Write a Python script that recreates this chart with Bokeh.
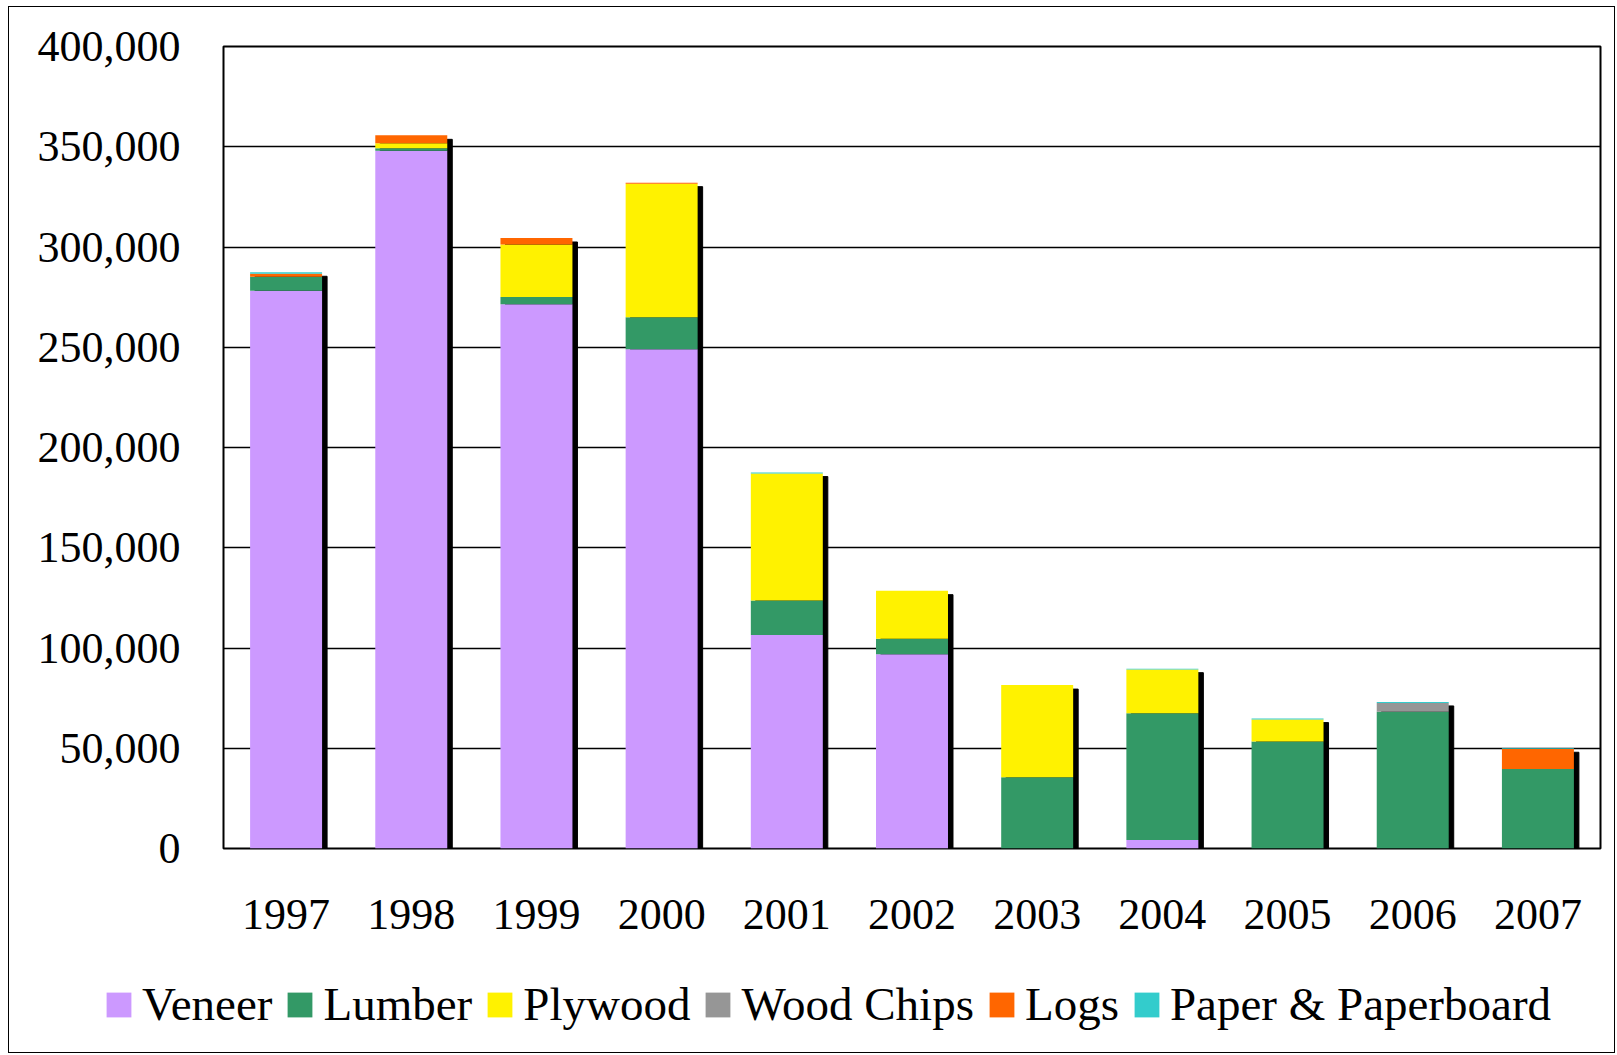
from bokeh.plotting import figure
from bokeh.layouts import column
from bokeh.models import ColumnDataSource, FactorRange, Range1d, NumeralTickFormatter, Legend, FixedTicker
from bokeh.transform import dodge
from bokeh.embed import file_html
from bokeh.resources import INLINE

years = ["1997", "1998", "1999", "2000", "2001", "2002", "2003", "2004", "2005", "2006", "2007"]
veneer = [278200, 348000, 271400, 249000, 106500, 96900, 0, 4200, 0, 0, 0]
lumber = [7000, 1200, 3700, 16000, 17200, 7700, 35500, 63300, 53400, 68200, 39600]
plywood = [0, 2500, 26200, 66600, 63300, 24000, 46000, 21800, 10900, 0, 0]
wood_chips = [0, 0, 0, 0, 0, 0, 0, 0, 0, 4400, 0]
logs = [1500, 4000, 3200, 500, 0, 0, 0, 0, 0, 0, 10000]
paper = [700, 0, 0, 0, 500, 0, 0, 400, 500, 500, 400]

series = ["Veneer", "Lumber", "Plywood", "Wood Chips", "Logs", "Paper & Paperboard"]
colors = ["#CC99FF", "#339966", "#FFF200", "#969696", "#FF6600", "#33CCCC"]
y_ticks = [0, 50000, 100000, 150000, 200000, 250000, 300000, 350000, 400000]

FONT = "Liberation Serif"

totals = [sum(v) for v in zip(veneer, lumber, plywood, wood_chips, logs, paper)]
shadow_drop = 2000  # ~4 px drop of the shadow
data = dict(year=years, Veneer=veneer, Lumber=lumber, Plywood=plywood,
            **{"Wood Chips": wood_chips, "Logs": logs, "Paper & Paperboard": paper},
            shadow_top=[t - shadow_drop for t in totals],
            shadow_bottom=[-shadow_drop] * len(years))
src = ColumnDataSource(data)

p = figure(x_range=FactorRange(*years, range_padding=0), y_range=Range1d(0, 400000),
           frame_width=1377, frame_height=802,
           min_border_left=214, min_border_right=14, min_border_top=39, min_border_bottom=110,
           output_backend="svg", toolbar_location=None, background_fill_color="white",
           border_fill_color="white")

bar_w = 0.575
p.vbar(x=dodge("year", 0.04, range=p.x_range), top="shadow_top", bottom="shadow_bottom",
       width=bar_w, source=src, color="black")
p.vbar_stack(series, x="year", width=bar_w, source=src, color=colors, line_color=None)

p.outline_line_color = "black"
p.outline_line_width = 2

p.xgrid.grid_line_color = None
p.ygrid.grid_line_color = "black"
p.ygrid.grid_line_width = 1.3
p.ygrid.ticker = FixedTicker(ticks=y_ticks)

p.yaxis.ticker = FixedTicker(ticks=y_ticks)
p.yaxis.formatter = NumeralTickFormatter(format="0,0")
for ax in (p.xaxis[0], p.yaxis[0]):
    ax.axis_line_color = None
    ax.major_tick_line_color = None
    ax.minor_tick_line_color = None
    ax.major_label_text_font = FONT
    ax.major_label_text_font_size = "44px"
    ax.major_label_text_color = "black"
p.yaxis.major_label_standoff = 37
p.xaxis.major_label_standoff = 45

# legend strip below the chart (zero-height swatch bars only feed the legend glyphs)
leg_src = ColumnDataSource({"year": years[:1], **{s: [0] for s in series}})
lf = figure(x_range=FactorRange(*years), y_range=Range1d(1, 2),
            frame_width=1605, frame_height=94, min_border=0,
            x_axis_location=None, y_axis_location=None,
            output_backend="svg", toolbar_location=None,
            background_fill_color="white", border_fill_color="white")
lf.outline_line_color = None
lf.grid.grid_line_color = None
leg_renderers = lf.vbar_stack(series, x="year", width=bar_w, source=leg_src, color=colors,
                              line_color=None)

legend = Legend(items=[(s, [r]) for s, r in zip(series, leg_renderers)],
                orientation="horizontal", location=(94, 21))
legend.label_text_font = FONT
legend.label_text_font_size = "47px"
legend.label_text_color = "black"
legend.glyph_width = 31
legend.glyph_height = 31
legend.label_standoff = 8
legend.spacing = 12
legend.padding = 0
legend.margin = 0
legend.border_line_color = None
legend.background_fill_alpha = 0
lf.add_layout(legend, "center")

layout = column(p, lf, spacing=0)
layout.styles = {"border": "1px solid black", "margin-left": "8px", "margin-top": "6px"}

open("out.html", "w").write(file_html(layout, INLINE))
